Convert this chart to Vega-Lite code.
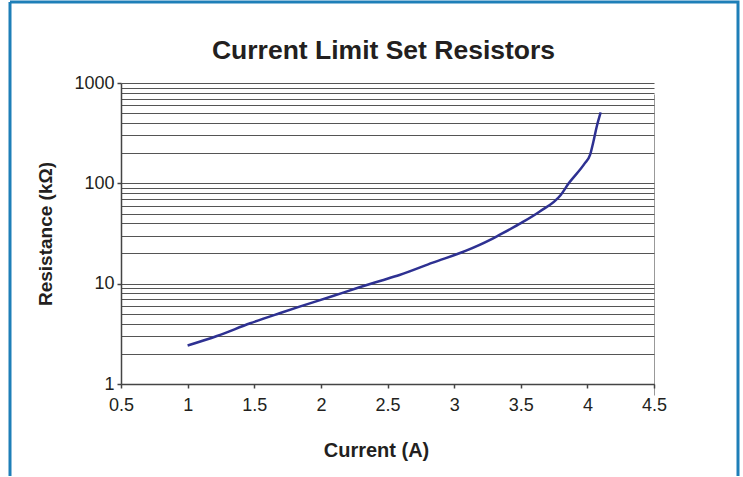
{
  "$schema": "https://vega.github.io/schema/vega-lite/v6.json",
  "width": 728,
  "height": 474,
  "autosize": {"type": "none"},
  "padding": {"left": 10, "top": 2, "right": 5, "bottom": 1},
  "background": "white",
  "title": {
    "text": "Current Limit Set Resistors",
    "fontSize": 26.5,
    "fontWeight": "bold",
    "font": "Liberation Sans",
    "color": "#231f20",
    "anchor": "middle",
    "dx": 9.5,
    "offset": 0,
    "baseline": "alphabetic",
    "dy": 83
  },
  "data": {
    "values": [
      {"current": 1.0, "resistance": 2.42},
      {"current": 1.22, "resistance": 3.01},
      {"current": 1.47, "resistance": 4.03},
      {"current": 1.69, "resistance": 5.07},
      {"current": 1.84, "resistance": 5.9},
      {"current": 2.09, "resistance": 7.54},
      {"current": 2.29, "resistance": 9.2},
      {"current": 2.45, "resistance": 10.7},
      {"current": 2.59, "resistance": 12.2},
      {"current": 2.84, "resistance": 16.2},
      {"current": 3.09, "resistance": 21.3},
      {"current": 3.27, "resistance": 27.3},
      {"current": 3.34, "resistance": 30.6},
      {"current": 3.49, "resistance": 39.4},
      {"current": 3.64, "resistance": 52.2},
      {"current": 3.8, "resistance": 76.6},
      {"current": 3.86, "resistance": 100},
      {"current": 3.98, "resistance": 158},
      {"current": 4.02, "resistance": 192},
      {"current": 4.045, "resistance": 260},
      {"current": 4.07, "resistance": 367},
      {"current": 4.1, "resistance": 510}
    ]
  },
  "mark": {"type": "line", "color": "#2E3192", "strokeWidth": 2.5, "interpolate": "monotone"},
  "encoding": {
    "x": {
      "field": "current",
      "type": "quantitative",
      "scale": {"domain": [0.5, 4.5], "range": [111, 644], "nice": false, "zero": false},
      "axis": {
        "values": [0.5, 1, 1.5, 2, 2.5, 3, 3.5, 4, 4.5],
        "format": "~g",
        "offset": -92,
        "grid": true,
        "gridColor": "#999999",
        "gridOpacity": {"condition": {"test": "datum.value == 4.5", "value": 1}, "value": 0},
        "domainColor": "#444444",
        "domainWidth": 1.5,
        "tickColor": "#444444",
        "tickSize": 4,
        "tickWidth": 1.5,
        "labelFont": "Liberation Sans",
        "labelFontSize": 18,
        "labelColor": "#231f20",
        "labelPadding": 8,
        "labelDx": 3,
        "labelFlush": false,
        "labelOverlap": false,
        "title": "Current (A)",
        "titleFont": "Liberation Sans",
        "titleFontSize": 20,
        "titleFontWeight": "bold",
        "titleColor": "#231f20",
        "titleX": 366,
        "titleY": 66,
        "titleBaseline": "middle",
        "titleAlign": "center"
      }
    },
    "y": {
      "field": "resistance",
      "type": "quantitative",
      "scale": {"type": "log", "domain": [1, 1000], "range": [382, 81], "nice": false},
      "axis": {
        "values": [1, 2, 3, 4, 5, 6, 7, 8, 9, 10, 20, 30, 40, 50, 60, 70, 80, 90, 100, 200, 300, 400, 500, 600, 700, 800, 900, 1000],
        "offset": -111,
        "grid": true,
        "gridColor": "#555555",
        "gridWidth": 1,
        "domainColor": "#444444",
        "domainWidth": 1.5,
        "tickColor": "#444444",
        "tickSize": 4,
        "tickWidth": 1.5,
        "tickOpacity": {"condition": {"test": "indexof([1, 10, 100, 1000], datum.value) >= 0", "value": 1}, "value": 0},
        "labelExpr": "indexof([1, 10, 100, 1000], datum.value) >= 0 ? format(datum.value, 'd') : ''",
        "labelFont": "Liberation Sans",
        "labelFontSize": 18,
        "labelPadding": 3,
        "labelColor": "#231f20",
        "labelOverlap": false,
        "labelFlush": false,
        "labelDy": -1,
        "title": "Resistance (kΩ)",
        "titleFont": "Liberation Sans",
        "titleFontSize": 19,
        "titleFontWeight": "bold",
        "titleColor": "#231f20",
        "titleX": -76,
        "titleY": 231.5,
        "titleAngle": -90,
        "titleAlign": "center",
        "titleBaseline": "middle"
      }
    }
  },
  "config": {
    "view": {"stroke": "#1E7FB8", "strokeWidth": 3, "strokeDash": [1202, 728, 474, 0], "fill": "white"},
    "font": "Liberation Sans"
  }
}
